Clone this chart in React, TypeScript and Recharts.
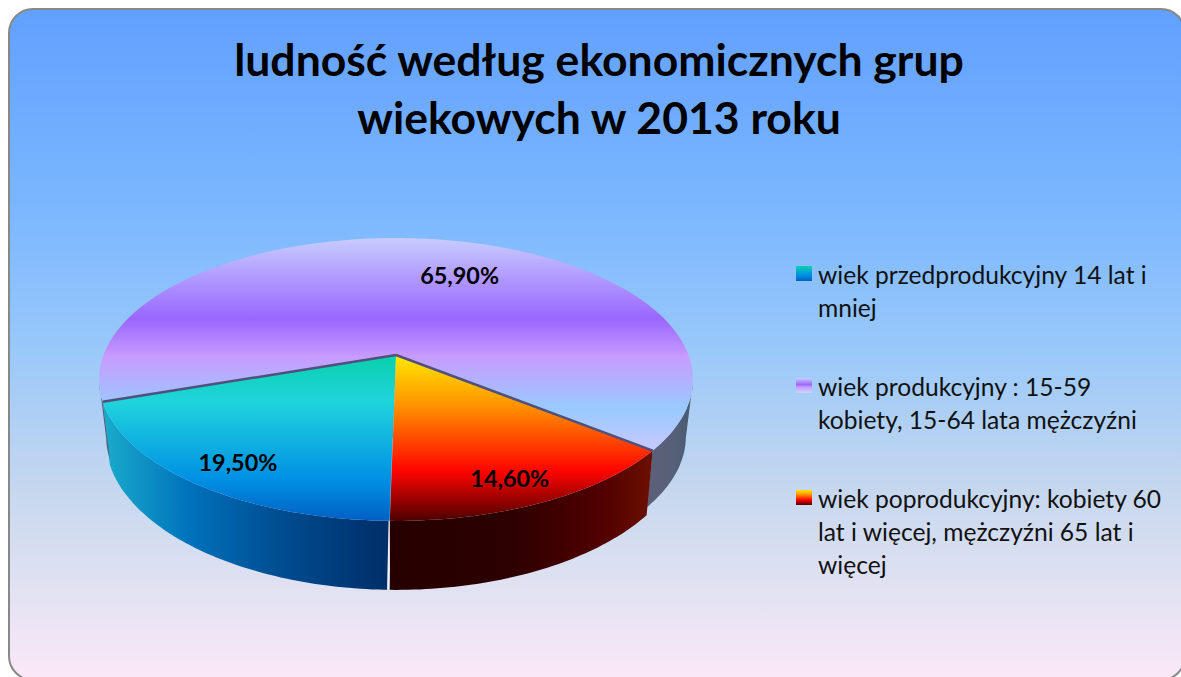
import { PieChart, Pie, Legend } from 'recharts';

const categoryLines = [
  ['wiek przedprodukcyjny 14 lat i', 'mniej'],
  ['wiek produkcyjny : 15-59', 'kobiety, 15-64 lata mężczyźni'],
  ['wiek poprodukcyjny: kobiety 60', 'lat i więcej, mężczyźni 65 lat i', 'więcej'],
];
const seriesValues = [19.5, 65.9, 14.6];
const titleLines = ['ludność według ekonomicznych grup', 'wiekowych w 2013 roku'];

const data = seriesValues.map((value, i) => ({ name: categoryLines[i].join(' '), value }));

// perspective of the disc: near edge is bigger than the far edge
const PERSPECTIVE = 0.173;
const SQUASH = 0.469;
const BOTTOM_SCALE = 0.976;

const topGradients = [
  [[0, '#08d0ac'], [0.28, '#20d4dc'], [0.75, '#0090e4'], [1, '#0060c4']],
  [[0, '#c8ccff'], [0.38, '#9966ff'], [0.56, '#c89cff'], [0.8, '#98caff'], [1, '#c8c8ff']],
  [[0, '#ffe800'], [0.3, '#ff9400'], [0.7, '#ff0400'], [1, '#4c0000']],
];
const wallGradients = [
  [[0, '#1aaccc'], [0.3, '#0072bc'], [0.62, '#004c90'], [1, '#002e68']],
  [[0, '#5c6078'], [0.6, '#566078'], [1, '#465a70']],
  [[0, '#260000'], [0.45, '#2c0000'], [0.8, '#500000'], [1, '#6c1000']],
];
const legendSwatches = [
  'linear-gradient(#08d0ac, #0090e4 60%, #0060c4)',
  'linear-gradient(#c8ccff, #9966ff 45%, #c89cff 60%, #c8d8ff)',
  'linear-gradient(#ffe800, #ff9400 30%, #ff0400 65%, #4c0000)',
];
// data labels were dragged by hand in the original
const labelNudge = [
  [6, 2],
  [27, 19],
  [-7, 3],
];

function project(cx: number, cy: number, r: number, angle: number, frac = 1) {
  const rad = (angle * Math.PI) / 180;
  const u = Math.cos(rad) * frac;
  const v = -Math.sin(rad) * frac;
  const w = 1 - PERSPECTIVE * v;
  return { x: cx + (r * u) / w, y: cy + (r * SQUASH * v) / w, v };
}

function wallHeight(v: number, index: number) {
  return index === 1 ? 57 : 62 + 7 * v * v;
}

function samples(from: number, to: number) {
  const n = Math.max(2, Math.ceil(Math.abs(to - from)));
  const out: number[] = [];
  for (let i = 0; i <= n; i++) out.push(from + ((to - from) * i) / n);
  return out;
}

function Slice3D(props: any) {
  const { cx, cy, outerRadius: r, startAngle, endAngle, index } = props;
  const angles = samples(startAngle, endAngle);
  const rim = angles.map((a) => project(cx, cy, r, a));

  // wall pieces: only what faces the viewer
  const runs: number[][] = [];
  let run: number[] = [];
  angles.forEach((a) => {
    if (project(cx, cy, r, a).v >= PERSPECTIVE) run.push(a);
    else if (run.length) {
      runs.push(run);
      run = [];
    }
  });
  if (run.length) runs.push(run);

  const start = rim[0];
  const topPath =
    `M${cx},${cy} ` + rim.map((p) => `L${p.x.toFixed(1)},${p.y.toFixed(1)}`).join(' ') + ' Z';

  return (
    <g>
      {runs.map((list, k) => {
        const upper = list.map((a) => project(cx, cy, r, a));
        const lower = list
          .map((a) => {
            const p = project(cx, cy, r, a);
            return {
              x: cx + (p.x - cx) * BOTTOM_SCALE,
              y: p.y + wallHeight(p.v, index),
            };
          })
          .reverse();
        const d =
          'M' + [...upper, ...lower].map((p) => `${p.x.toFixed(1)},${p.y.toFixed(1)}`).join(' L') + ' Z';
        return <path key={k} d={d} fill={`url(#wall${index})`} />;
      })}
      <path d={topPath} fill={`url(#top${index})`} />
      {index > 0 && (
        <line x1={cx} y1={cy} x2={start.x} y2={start.y} stroke="#50507c" strokeWidth={2.5} />
      )}
      {index === 0 && (
        <>
          <line
            x1={project(cx, cy, r, startAngle, 0.55).x}
            y1={project(cx, cy, r, startAngle, 0.55).y}
            x2={start.x}
            y2={start.y}
            stroke="#9fd8f0"
            strokeWidth={1}
            opacity={0.6}
          />
          <line x1={start.x} y1={start.y} x2={start.x - 1.5} y2={start.y + 69} stroke="#f2f4fc" strokeWidth={2.5} />
        </>
      )}
    </g>
  );
}

function renderLabel(props: any) {
  const { cx, cy, outerRadius, midAngle, index, value } = props;
  const p = project(cx, cy, outerRadius, midAngle, 0.84);
  return (
    <text
      x={p.x + labelNudge[index][0]}
      y={p.y + labelNudge[index][1]}
      textAnchor="middle"
      dominantBaseline="central"
      fontFamily="Lato"
      fontWeight={700}
      fontSize={23.4}
      fill="#000"
    >
      {value.toFixed(2).replace('.', ',') + '%'}
    </text>
  );
}

function renderLegend() {
  return (
    <div style={{ display: 'flex', flexDirection: 'column', gap: 46 }}>
      {categoryLines.map((lines, i) => (
        <div key={i} style={{ position: 'relative', paddingLeft: 22 }}>
          <span
            style={{
              position: 'absolute',
              left: 0,
              top: 8,
              width: 16,
              height: 15,
              background: legendSwatches[i],
            }}
          />
          {lines.map((line) => (
            <div key={line} style={{ whiteSpace: 'nowrap' }}>
              {line}
            </div>
          ))}
        </div>
      ))}
    </div>
  );
}

function gradientStops(stops: (string | number)[][]) {
  return stops.map(([offset, color]) => (
    <stop key={offset} offset={offset as number} stopColor={color as string} />
  ));
}

export default function App() {
  return (
    <div style={{ position: 'fixed', left: 0, top: 0, width: 1181, height: 677, overflow: 'hidden', background: '#fff' }}>
      <div
        style={{
          position: 'absolute',
          left: 8,
          top: 8,
          width: 1178,
          height: 673,
          boxSizing: 'border-box',
          border: '2px solid #888',
          borderRadius: 25,
          background:
            'linear-gradient(#62a0ff 0%, #7ab6ff 29%, #98c8fa 50%, #c8d8ee 73%, #e2e2f2 87%, #fbe8f8 100%)',
        }}
      />
      <div
        style={{
          position: 'absolute',
          left: 0,
          top: 30,
          width: 1198,
          textAlign: 'center',
          fontFamily: 'Lato',
          fontWeight: 700,
          fontSize: 44.5,
          lineHeight: '58px',
          color: '#000',
        }}
      >
        {titleLines.map((line) => (
          <div key={line}>{line}</div>
        ))}
      </div>
      <div style={{ position: 'absolute', left: 0, top: 0 }}>
        <PieChart width={1181} height={677} margin={{ top: 0, right: 0, bottom: 0, left: 0 }}>
          <defs>
            {topGradients.map((stops, i) => (
              <linearGradient key={i} id={`top${i}`} x1="0" y1="0" x2="0" y2="1">
                {gradientStops(stops)}
              </linearGradient>
            ))}
            {wallGradients.map((stops, i) => (
              <linearGradient key={i} id={`wall${i}`} x1="0" y1="0" x2="1" y2="0">
                {gradientStops(stops)}
              </linearGradient>
            ))}
          </defs>
          <Pie
            data={data}
            dataKey="value"
            nameKey="name"
            cx={396}
            cy={355}
            innerRadius={0}
            outerRadius={292.5}
            startAngle={269}
            endAngle={-91}
            stroke="none"
            shape={(props: any) => <Slice3D {...props} />}
            label={renderLabel}
            labelLine={false}
            isAnimationActive={false}
          />
          <Legend
            content={renderLegend}
            wrapperStyle={{
              position: 'absolute',
              left: 796,
              top: 258,
              width: 380,
              fontFamily: 'Lato',
              fontSize: 24.6,
              lineHeight: '33px',
              color: '#111',
            }}
          />
        </PieChart>
      </div>
    </div>
  );
}
